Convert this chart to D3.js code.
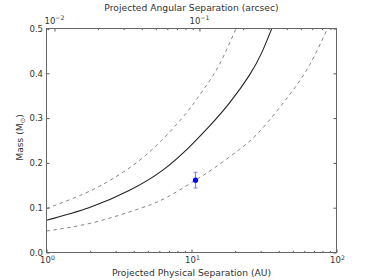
<!DOCTYPE html>
<html>
<head>
<meta charset="utf-8">
<script src="https://cdn.jsdelivr.net/npm/d3@7"></script>
<style>
  body { margin: 0; background: #fff; }
  svg { display: block; font-family: "DejaVu Sans", sans-serif; }
  .tick line { stroke: #555; }
  .lbl { fill: #333; font-size: 8.5px; }
  .ttl { fill: #333; font-size: 9.2px; }
</style>
</head>
<body>
<div id="chart"></div>
<script>
// projected physical separation (AU) vs mass (Msun)
const solidSep  = [1, 1.98, 3.74, 6.34, 9.69, 13.3, 18.3, 25.1, 30.4, 35.8];
const solidMass = [0.072, 0.1005, 0.139, 0.184, 0.236, 0.282, 0.334, 0.396, 0.445, 0.5];

const upperSep  = [1, 1.78, 2.87, 4.87, 7.84, 10.2, 12.6, 15.6, 20.3];
const upperMass = [0.098, 0.130, 0.165, 0.218, 0.285, 0.330, 0.372, 0.420, 0.5];

const lowerSep  = [1, 2.11, 4.38, 6.02, 7.84, 10.66, 14.4, 21.4, 28.7, 38.4, 50, 65.1, 86.7];
const lowerMass = [0.048, 0.067, 0.098, 0.115, 0.135, 0.1615, 0.189, 0.230, 0.266, 0.314, 0.362, 0.418, 0.5];

const objSep = [10.66];
const objMass = [0.1615];
const objErr = [0.0175];

const sepDomain = [1, 100];
const massTicks = [0, 0.1, 0.2, 0.3, 0.4, 0.5];
const sepMajor = [1, 10, 100];
const sepExp = ["0", "1", "2"];
const distancePc = 113.5;
const angMajor = [0.01, 0.1];
const angExp = ["\u22122", "\u22121"];

const width = 374, height = 280;
const padL = 46.5, padR = 336.5, padT = 28.5, padB = 252.5;

const svg = d3.select(`#chart`).append(`svg`)
  .attr(`width`, width)
  .attr(`height`, height);

const x = d3.scaleLog().domain(sepDomain).range([padL, padR]);
const xTop = d3.scaleLog().domain(sepDomain.map(d => d / distancePc)).range([padL, padR]);
const y = d3.scaleLinear().domain([0, 0.5]).range([padB, padT]);

const minorOf = (lo, hi) => {
  const out = [];
  for (let e = Math.floor(Math.log10(lo)); e <= Math.ceil(Math.log10(hi)); e++) {
    for (let m = 2; m <= 9; m++) {
      const v = m * Math.pow(10, e);
      if (v > lo && v < hi) out.push(v);
    }
  }
  return out;
};

const axisGroup = (axis, tx, ty) => {
  const g = svg.append(`g`).attr(`transform`, `translate(${tx},${ty})`).call(axis);
  g.select(`.domain`).remove();
  return g;
};

// ticks (pointing inward)
axisGroup(d3.axisBottom(x).tickValues(sepMajor).tickSizeInner(-3).tickSizeOuter(0).tickFormat(``), 0, padB);
axisGroup(d3.axisBottom(x).tickValues(minorOf(1, 100)).tickSizeInner(-1.6).tickSizeOuter(0).tickFormat(``), 0, padB);
axisGroup(d3.axisTop(xTop).tickValues(angMajor).tickSizeInner(-3).tickSizeOuter(0).tickFormat(``), 0, padT);
axisGroup(d3.axisTop(xTop).tickValues(minorOf(xTop.domain()[0], xTop.domain()[1])).tickSizeInner(-1.6).tickSizeOuter(0).tickFormat(``), 0, padT);
axisGroup(d3.axisRight(y).tickValues(massTicks).tickSizeInner(-3).tickSizeOuter(0).tickFormat(``), padR, 0);

const yAxis = axisGroup(d3.axisLeft(y).tickValues(massTicks).tickSizeInner(-3).tickSizeOuter(0)
  .tickPadding(3.5).tickFormat(d3.format(`.1f`)), padL, 0);
yAxis.attr(`font-size`, null).attr(`font-family`, null);
yAxis.selectAll(`text`).attr(`class`, `lbl`);

// log tick labels with superscripts
const powerLabel = (xPos, yPos, exp) => {
  const t = svg.append(`text`).attr(`class`, `lbl`)
    .attr(`x`, xPos).attr(`y`, yPos).attr(`text-anchor`, `middle`);
  t.append(`tspan`).text(`10`);
  t.append(`tspan`).attr(`dy`, -3.6).attr(`font-size`, `6.2px`).text(exp);
};
sepMajor.forEach((v, i) => powerLabel(x(v) + 1, 263.2, sepExp[i]));
angMajor.forEach((v, i) => powerLabel(xTop(v), 24, angExp[i]));

// curves
svg.append(`clipPath`).attr(`id`, `plotclip`)
  .append(`rect`).attr(`x`, padL).attr(`y`, padT).attr(`width`, padR - padL).attr(`height`, padB - padT);

const line = d3.line()
  .x(d => x(d[0]))
  .y(d => y(d[1]))
  .curve(d3.curveNatural);

const plot = svg.append(`g`).attr(`clip-path`, `url(#plotclip)`);

[[upperSep, upperMass], [lowerSep, lowerMass]].forEach(([s, m]) => {
  plot.append(`path`)
    .datum(d3.zip(s, m))
    .attr(`d`, line)
    .attr(`fill`, `none`)
    .attr(`stroke`, `#777`)
    .attr(`stroke-width`, 0.9)
    .attr(`stroke-dasharray`, `3.5,3.5`);
});

plot.append(`path`)
  .datum(d3.zip(solidSep, solidMass))
  .attr(`d`, line)
  .attr(`fill`, `none`)
  .attr(`stroke`, `#222`)
  .attr(`stroke-width`, 1.1);

// measured companion with error bar
const obj = d3.zip(objSep, objMass, objErr);
const eb = plot.selectAll(`.eb`).data(obj).enter().append(`g`).attr(`class`, `eb`);
eb.append(`line`)
  .attr(`x1`, d => x(d[0])).attr(`x2`, d => x(d[0]))
  .attr(`y1`, d => y(d[1] - d[2])).attr(`y2`, d => y(d[1] + d[2]))
  .attr(`stroke`, `#7f7fff`).attr(`stroke-width`, 1.2);
[-1, 1].forEach(s => {
  eb.append(`line`)
    .attr(`x1`, d => x(d[0]) - 2).attr(`x2`, d => x(d[0]) + 2)
    .attr(`y1`, d => y(d[1] + s * d[2])).attr(`y2`, d => y(d[1] + s * d[2]))
    .attr(`stroke`, `#7f7fff`).attr(`stroke-width`, 1);
});
eb.append(`circle`)
  .attr(`cx`, d => x(d[0])).attr(`cy`, d => y(d[1]))
  .attr(`r`, 2.6)
  .attr(`fill`, `#0000ff`);

// frame
svg.append(`rect`)
  .attr(`x`, padL).attr(`y`, padT)
  .attr(`width`, padR - padL).attr(`height`, padB - padT)
  .attr(`fill`, `none`)
  .attr(`stroke`, `#666`)
  .attr(`stroke-width`, 1);

// axis titles
svg.append(`text`).attr(`class`, `ttl`)
  .attr(`x`, (padL + padR) / 2).attr(`y`, 276)
  .attr(`text-anchor`, `middle`)
  .text(`Projected Physical Separation (AU)`);

svg.append(`text`).attr(`class`, `ttl`)
  .attr(`x`, (padL + padR) / 2).attr(`y`, 10.8)
  .attr(`text-anchor`, `middle`)
  .text(`Projected Angular Separation (arcsec)`);

const yl = svg.append(`text`).attr(`class`, `ttl`)
  .attr(`transform`, `translate(22.5,${(padT + padB) / 2 - 3}) rotate(-90)`)
  .attr(`text-anchor`, `middle`);
yl.append(`tspan`).text(`Mass (M`);
yl.append(`tspan`).attr(`font-size`, `6.5px`).attr(`dy`, 2).text(`\u2299`);
yl.append(`tspan`).attr(`dy`, -2).text(`)`);
</script>
</body>
</html>
